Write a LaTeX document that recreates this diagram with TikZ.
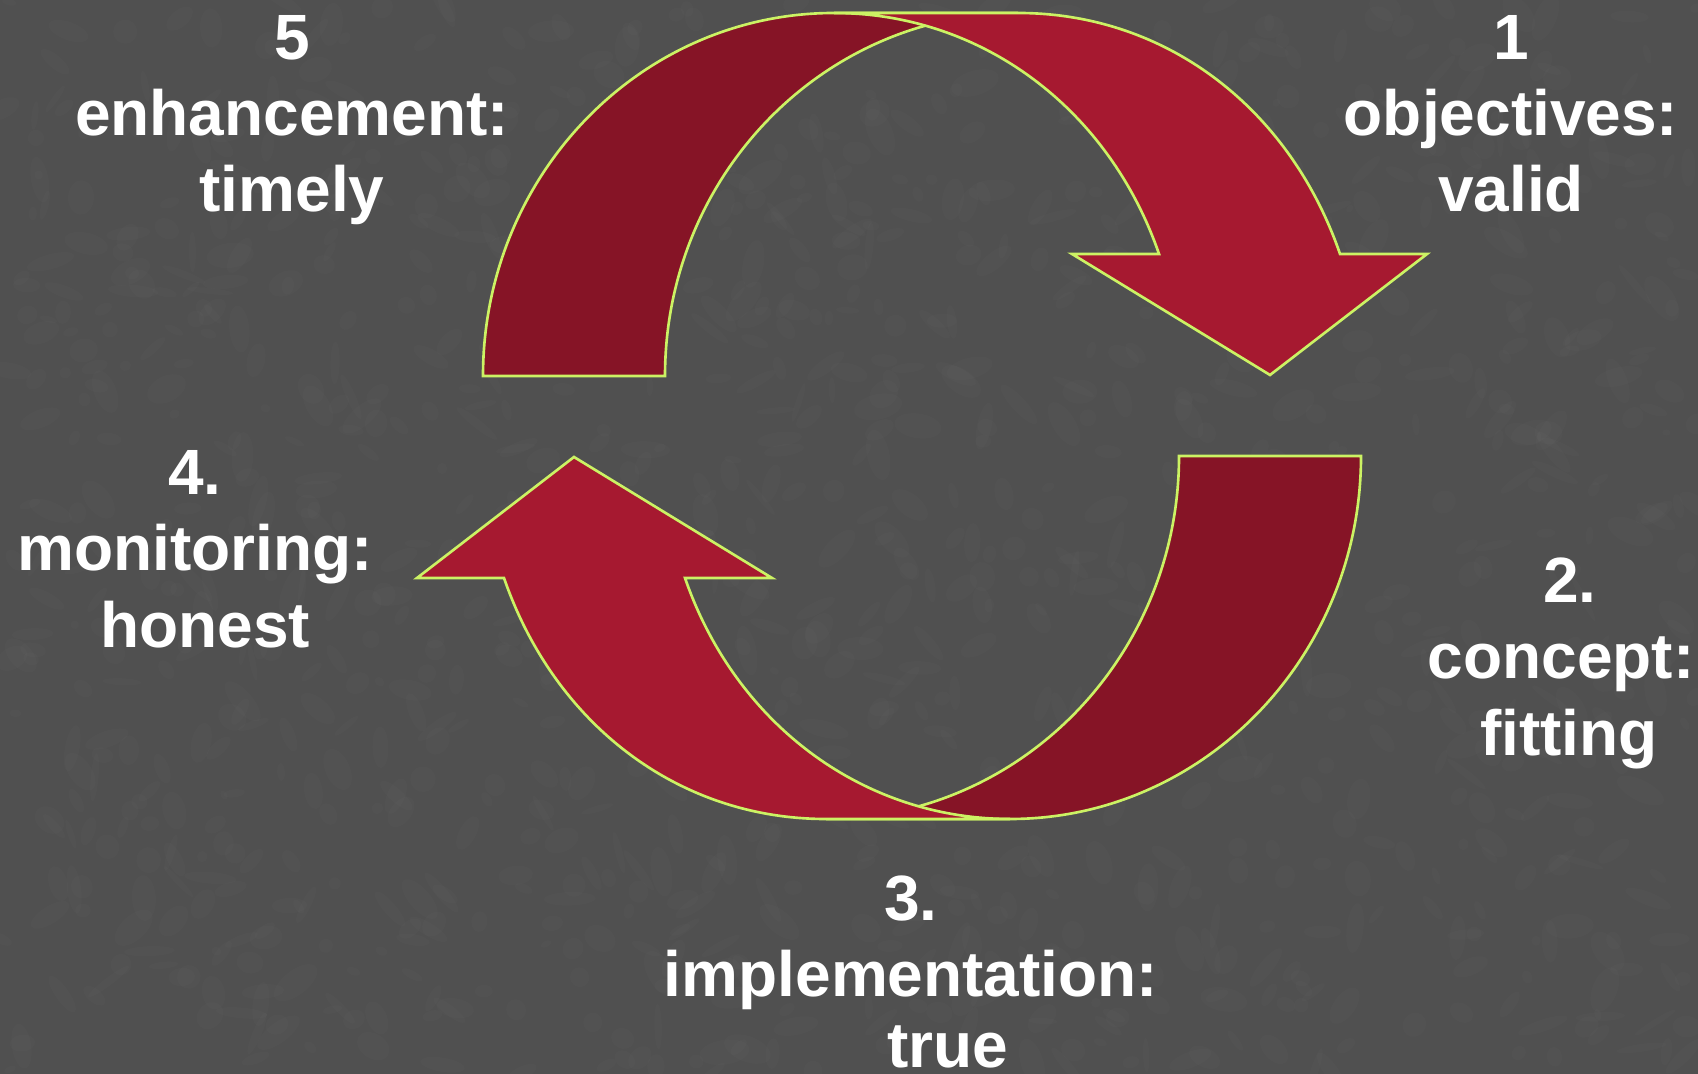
\documentclass[tikz,border=0pt]{standalone}
\usepackage{fontspec}
\setmainfont{Liberation Sans}
\definecolor{bgcol}{RGB}{80,80,80}
\definecolor{speck}{RGB}{140,140,140}
\definecolor{arrowlight}{RGB}{166,25,48}
\definecolor{arrowdark}{RGB}{134,20,38}
\definecolor{rim}{RGB}{204,242,100}
\begin{document}
\begin{tikzpicture}[x=0.01cm,y=-0.01cm,
  lbl/.style={text=white,font=\fontsize{18.2pt}{22pt}\selectfont\bfseries,anchor=base,inner sep=0pt},
  front/.style={fill=arrowlight,draw=rim,line width=0.75pt,line join=miter},
  back/.style={fill=arrowdark,draw=rim,line width=0.75pt,line join=miter}]
\fill[bgcol] (0,0) rectangle (1698,1074);
\useasboundingbox (0,0) rectangle (1698,1074);
% faint mottled texture of the slate background
\begin{scope}
\clip (0,0) rectangle (1698,1074);
\pgfmathsetseed{11}
\foreach \i in {1,...,1200}{
  \pgfmathsetmacro\xx{rnd*1698}
  \pgfmathsetmacro\yy{rnd*1074}
  \pgfmathsetmacro\rx{4+rnd*22}
  \pgfmathsetmacro\ry{3+rnd*10}
  \pgfmathsetmacro\ang{rnd*180}
  \fill[speck,opacity=0.045,rotate around={\ang:(\xx,\yy)}] (\xx,\yy) ellipse ({\rx} and {\ry});
}
\end{scope}

% top arrow (back and front of the ribbon)
\path[back] (483,376) .. controls (483,176) and (640,13) .. (834,13)
  -- (1018,13) .. controls (823,13) and (665,176) .. (665,376) -- cycle;
\path[front] (834,13) -- (1018,13) .. controls (1167,13) and (1290,109) .. (1340,254)
  -- (1427,254) -- (1270,375) -- (1072,254) -- (1159,254)
  .. controls (1109,109) and (982,13) .. (834,13) -- cycle;

% bottom arrow: same shape turned half a turn
\begin{scope}[rotate around={180:(922,416)}]
\path[back] (483,376) .. controls (483,176) and (640,13) .. (834,13)
  -- (1018,13) .. controls (823,13) and (665,176) .. (665,376) -- cycle;
\path[front] (834,13) -- (1018,13) .. controls (1167,13) and (1290,109) .. (1340,254)
  -- (1427,254) -- (1270,375) -- (1072,254) -- (1159,254)
  .. controls (1109,109) and (982,13) .. (834,13) -- cycle;
\end{scope}

% labels
\node[lbl] (n5) at (292,60) {5};
\node[lbl] (e5) at (292,136) {enhancement:};
\node[lbl] (t5) at (292,212) {timely};
\node[lbl] (n1) at (1511,60) {1};
\node[lbl] (o1) at (1511,136) {objectives:};
\node[lbl] (v1) at (1511,212) {valid};
\node[lbl] (n4) at (195,495) {4.};
\node[lbl] (m4) at (195,571) {monitoring:};
\node[lbl] (h4) at (205,648) {honest};
\node[lbl] (n2) at (1570,603) {2.};
\node[lbl] (c2) at (1561,679) {concept:};
\node[lbl] (f2) at (1569,755) {fitting};
\node[lbl] (n3) at (911,920) {3.};
\node[lbl] (i3) at (911,996) {implementation:};
\node[lbl] (t3) at (948,1067) {true};
\end{tikzpicture}
\end{document}
